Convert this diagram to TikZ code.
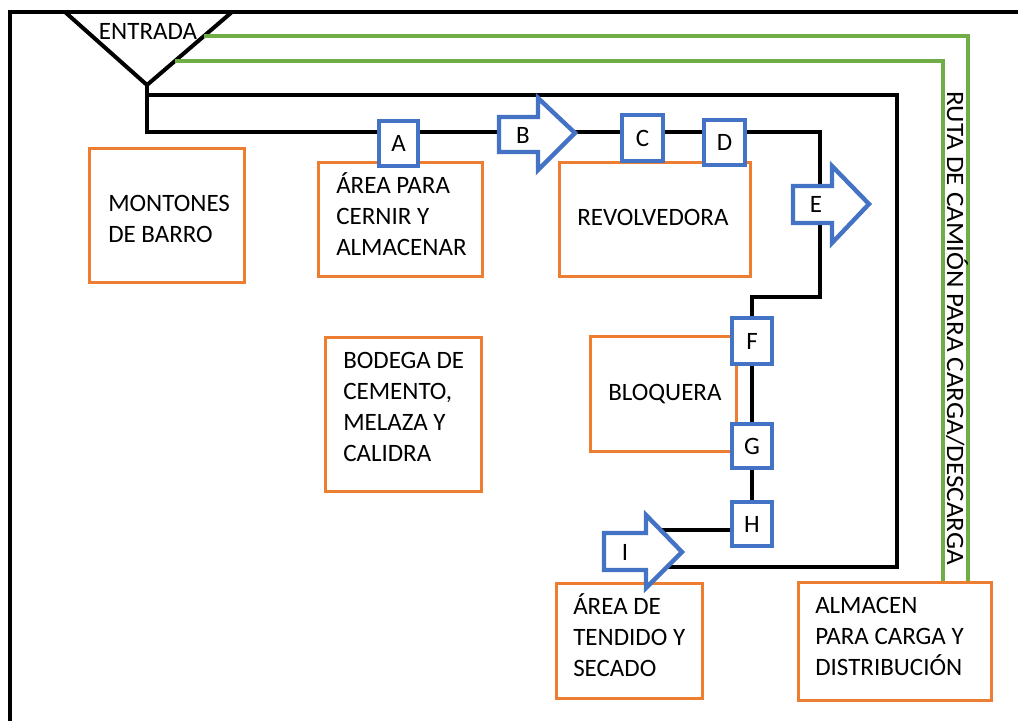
\documentclass[tikz,border=0pt]{standalone}
\usepackage{fontspec}
\usepackage{graphicx}
\setmainfont{Carlito}
\usetikzlibrary{calc}
\definecolor{boxorange}{HTML}{ED7D31}
\definecolor{stepblue}{HTML}{4472C4}
\definecolor{routegreen}{HTML}{70AD47}
% left-aligned multi-line text whose reference point is the first baseline
\newcommand{\stack}[1]{\begin{tabular}[t]{@{}l@{}}#1\end{tabular}}
\begin{document}
\begin{tikzpicture}[x=0.75pt,y=-0.75pt,
  font=\fontsize{18.75pt}{23.25pt}\selectfont,
  blk/.style={line width=3pt, line join=miter},
  grn/.style={line width=2.6pt, routegreen},
  areabox/.style={draw=boxorange, line width=2.25pt, fill=white, inner sep=0pt},
  stepbox/.style={draw=stepblue, line width=3.3pt, fill=white, inner sep=0pt,
    minimum width=30pt, minimum height=34pt},
  steparrow/.style={draw=stepblue, line width=3.3pt, fill=white, line join=miter},
  txt/.style={inner sep=0pt, anchor=base west}]
\useasboundingbox (0,0) rectangle (1018,721);

% entrance funnel and site boundary
\coordinate (apex) at (147,85);
\coordinate (tL) at (65,12);
\coordinate (tR) at (232,12);
\coordinate (frameBL) at (10,721);
\coordinate (frameTL) at (10,12);
\coordinate (frameTR) at (1018,12);
\draw[blk] (frameBL) -- (frameTL) -- (frameTR);
\draw[blk] (tL) -- (apex) -- (tR);
\node[anchor=base, inner sep=0pt] (entrada) at (148,40) {ENTRADA};

% truck route
\coordinate (gA) at (968,581);
\coordinate (gB) at (943,581);
\draw[grn] ($(tR)!0.329!(apex)$) -| (gA);
\draw[grn] ($(tR)!0.671!(apex)$) -| (gB);
\node[inner sep=0pt, rotate=-90, anchor=base] (ruta) at (947,328)
  {\scalebox{1.083}[1]{RUTA DE CAMIÓN PARA CARGA/DESCARGA}};

% production flow lines
\coordinate (o1) at (897,95);
\coordinate (o2) at (897,567);
\coordinate (o3) at (667,567);
\coordinate (i1) at (820,132);
\coordinate (i2) at (820,297);
\coordinate (i3) at (752,297);
\coordinate (h1) at (740,530);
\coordinate (h2) at (660,530);
\draw[blk] (apex) |- (o1) -- (o2) -- (o3);
\draw[blk] (apex) |- (i1) -- (i2) -- (i3) -- (752,524);
\draw[blk] (h1) -- (h2);

% work areas
\node[areabox, minimum width=116.25pt, minimum height=100.5pt] (montones) at (167,215.5) {};
\node[areabox, minimum width=123pt, minimum height=85.5pt] (cernir) at (400.5,219.5) {};
\node[areabox, minimum width=143.25pt, minimum height=85.5pt] (revolvedora) at (655,219.5) {};
\node[areabox, minimum width=117pt, minimum height=115.5pt] (bodega) at (403.5,414.5) {};
\node[areabox, minimum width=109.5pt, minimum height=86.25pt] (bloquera) at (663.5,394) {};
\node[areabox, minimum width=109.5pt, minimum height=86.25pt] (tendido) at (629.5,641) {};
\node[areabox, minimum width=144.75pt, minimum height=88.5pt] (almacen) at (895,641.5) {};

\node[txt] (tMontones) at (108,211) {\stack{MONTONES\\DE BARRO}};
\node[txt] (tCernir) at (336,193) {\stack{ÁREA PARA\\CERNIR Y\\ALMACENAR}};
\node[txt] (tRevolvedora) at (577,225) {REVOLVEDORA};
\node[txt] (tBodega) at (343,368) {\stack{BODEGA DE\\CEMENTO,\\MELAZA Y\\CALIDRA}};
\node[txt] (tBloquera) at (608,400) {BLOQUERA};
\node[txt] (tTendido) at (573,614) {\stack{ÁREA DE\\TENDIDO Y\\SECADO}};
\node[txt] (tAlmacen) at (815,613) {\stack{ALMACEN\\PARA CARGA Y\\DISTRIBUCIÓN}};

% process steps
\node[stepbox, minimum width=29.25pt, minimum height=33.75pt] (A) at (398.5,143.5) {A};
\node[stepbox, minimum width=30.75pt, minimum height=34.5pt] (C) at (642.5,138) {C};
\node[stepbox, minimum width=30.75pt, minimum height=33.75pt] (D) at (724.5,142.5) {D};
\node[stepbox, minimum width=30pt, minimum height=34.5pt] (F) at (752,341) {F};
\node[stepbox, minimum width=30pt, minimum height=33pt] (G) at (752,446) {G};
\node[stepbox, minimum width=30pt, minimum height=33pt] (H) at (752,524) {H};

\draw[steparrow] (499,117) -- (538,117) -- (538,98) -- (575,133) -- (538,170) -- (538,152) -- (499,152) -- cycle;
\node[inner sep=0pt] (B) at (523,135) {B};
\draw[steparrow] (793,186) -- (832,186) -- (832,166) -- (869,204) -- (832,243) -- (832,223) -- (793,223) -- cycle;
\node[inner sep=0pt] (E) at (816,204) {E};
\draw[steparrow] (604,533) -- (646,533) -- (646,515) -- (682,552) -- (646,588) -- (646,570) -- (604,570) -- cycle;
\node[inner sep=0pt] (I) at (625,552) {I};
\end{tikzpicture}
\end{document}
